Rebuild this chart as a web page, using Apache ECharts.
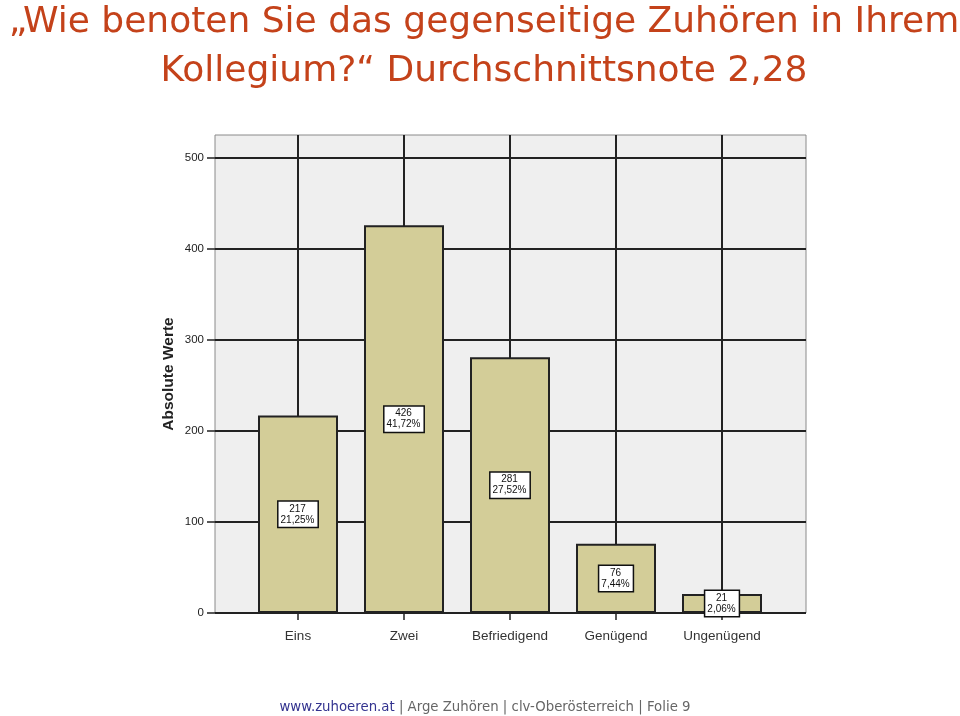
<!DOCTYPE html>
<html><head><meta charset="utf-8">
<script src="https://cdn.jsdelivr.net/npm/echarts@6/dist/echarts.min.js"></script>
<style>html,body{margin:0;padding:0;background:#fff}#c{width:960px;height:716px}</style>
</head><body><div id="c"></div>
<script>
const categories = ['Eins', 'Zwei', 'Befriedigend', 'Genügend', 'Ungenügend'];
const counts = [217, 426, 281, 76, 21];
const percents = ['21,25%', '41,72%', '27,52%', '7,44%', '2,06%'];
const yTicks = [0, 100, 200, 300, 400, 500];
const titleLines = ['„Wie benoten Sie das gegenseitige Zuhören in Ihrem', 'Kollegium?“ Durchschnittsnote 2,28'];

const chart = echarts.init(document.getElementById('c'));
const gridLine = { color: '#222', width: 2 };
chart.setOption({
  animation: false,
  title: [{
    text: titleLines.join('\n'),
    left: 479, top: -7, textAlign: 'center',
    textStyle: { color: '#c4421a', fontSize: 36, fontWeight: 'normal', fontFamily: 'DejaVu Sans', lineHeight: 49 }
  }, {
    text: '{a|www.zuhoeren.at}{b| | Arge Zuhören | clv-Oberösterreich | Folie 9}',
    left: 480, top: 696, textAlign: 'center',
    textStyle: { fontWeight: 'normal', rich: {
      a: { color: '#33338f', fontSize: 13.3, fontWeight: 'normal', fontFamily: 'DejaVu Sans' },
      b: { color: '#666', fontSize: 13.3, fontWeight: 'normal', fontFamily: 'DejaVu Sans' }
    } }
  }],
  grid: [
    { left: 215, right: 154, top: 135, bottom: 103, show: true, backgroundColor: '#efefef', borderColor: '#8a8a8a', borderWidth: 1 },
    { left: 215, right: 154, top: 158, bottom: 103 },
    { left: 298, right: 238, top: 135, bottom: 103 },
    { left: 245, right: 185, top: 158, bottom: 103 }
  ],
  xAxis: [
    { gridIndex: 0, type: 'category', data: categories, show: false },
    { gridIndex: 1, type: 'category', data: categories, show: false },
    { gridIndex: 2, type: 'category', data: categories, boundaryGap: false,
      axisLine: { show: false }, axisTick: { show: false }, axisLabel: { show: false },
      splitLine: { show: true, lineStyle: gridLine } },
    { gridIndex: 3, type: 'category', data: categories, boundaryGap: true,
      axisLine: { show: false },
      axisTick: { show: true, alignWithLabel: true, length: 7, lineStyle: { color: '#222', width: 1.5 } },
      axisLabel: { color: '#333', fontSize: 13.5, fontFamily: 'Liberation Sans', margin: 16 } }
  ],
  yAxis: [
    { gridIndex: 0, type: 'value', min: 0, max: 525,
      axisLine: { show: false }, axisTick: { show: false }, axisLabel: { show: false }, splitLine: { show: false },
      name: 'Absolute Werte', nameLocation: 'middle', nameGap: 38,
      nameTextStyle: { color: '#222', fontSize: 15.5, fontWeight: 'bold', fontFamily: 'Liberation Sans' } },
    { gridIndex: 1, type: 'value', min: yTicks[0], max: yTicks[yTicks.length - 1], interval: 100,
      axisLine: { show: false },
      axisTick: { show: true, length: 8, lineStyle: { color: '#222', width: 1.5 } },
      axisLabel: { color: '#222', fontSize: 11.5, fontFamily: 'Liberation Sans', margin: 11 },
      splitLine: { show: true, lineStyle: gridLine } },
    { gridIndex: 2, type: 'value', show: false, min: 0, max: 525 },
    { gridIndex: 3, type: 'value', show: false, min: yTicks[0], max: yTicks[yTicks.length - 1] }
  ],
  series: [{
    type: 'bar', xAxisIndex: 3, yAxisIndex: 3,
    data: counts, barWidth: 80,
    itemStyle: { color: '#d3cd98', borderColor: '#222', borderWidth: 2 },
    label: {
      show: true, position: 'inside',
      formatter: p => counts[p.dataIndex] + '\n' + percents[p.dataIndex],
      color: '#111', fontSize: 10, lineHeight: 11, fontFamily: 'Liberation Sans',
      backgroundColor: '#fff', borderColor: '#111', borderWidth: 1.5, padding: [2, 3, 1, 2]
    }
  }]
});
</script></body></html>
